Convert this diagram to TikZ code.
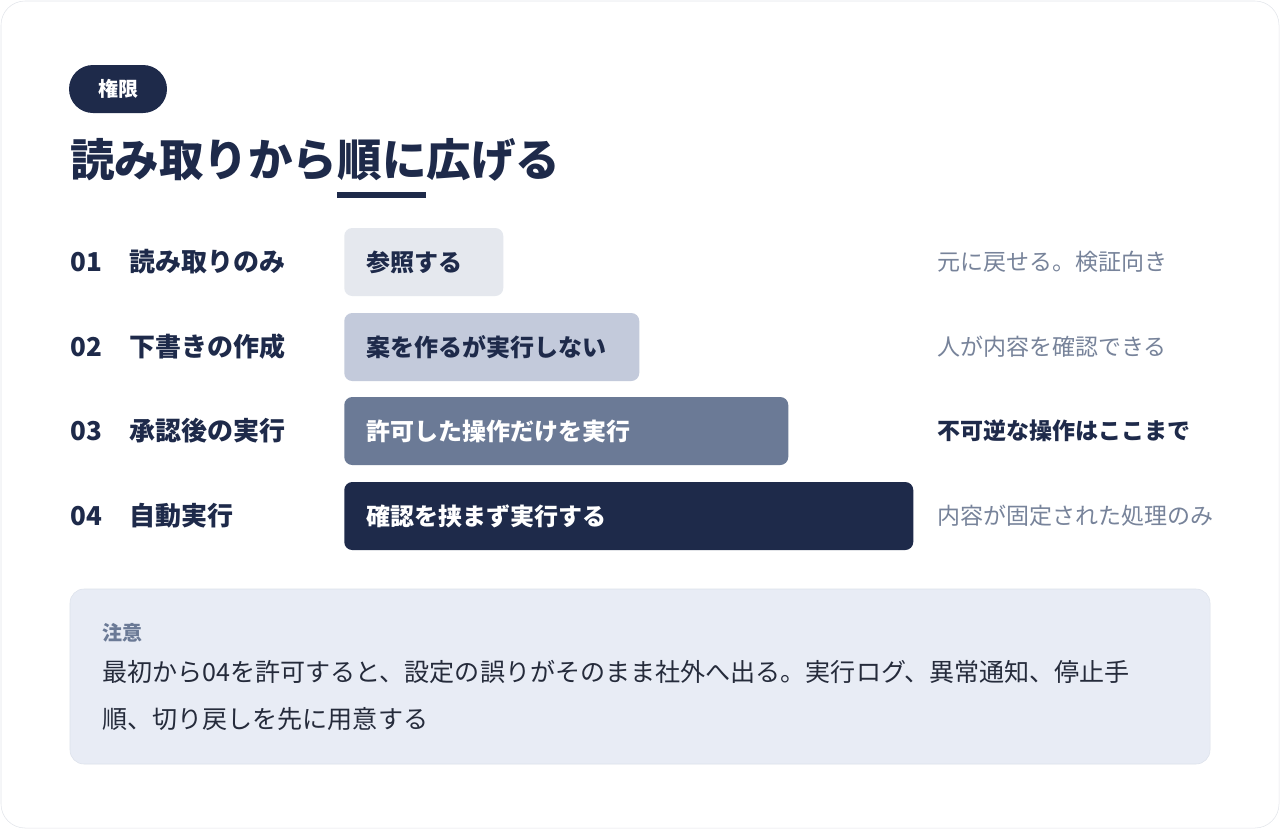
\documentclass[tikz,border=0pt]{standalone}
\usepackage{fontspec}
\setmainfont{Noto Sans CJK JP}
\newdimen\px \px=0.75pt
\definecolor{navy}{HTML}{1E2A4A}
\definecolor{barA}{HTML}{E5E8EE}
\definecolor{barB}{HTML}{C3CADB}
\definecolor{barC}{HTML}{6B7A96}
\definecolor{softgrey}{HTML}{77839A}
\definecolor{notefill}{HTML}{E8ECF5}
\definecolor{noteborder}{HTML}{DCE1EB}
\definecolor{notetext}{HTML}{252B3B}
\definecolor{framegrey}{HTML}{E2E5EA}
\newcommand\numfont{\fontsize{19.5pt}{24pt}\selectfont\bfseries}
\newcommand\barfont{\fontsize{18pt}{22pt}\selectfont\bfseries}
\newcommand\sidefont{\fontsize{17.25pt}{21pt}\selectfont}
\newcommand\notefont{\fontsize{18.8pt}{23pt}\selectfont}
\begin{document}
\begin{tikzpicture}[x=0.75pt,y=-0.75pt,
    rowlabel/.style={anchor=west,inner sep=0pt,text=navy,font=\numfont},
    sidenote/.style={anchor=west,inner sep=0pt,text=softgrey,font=\sidefont},
    notebody/.style={anchor=west,inner sep=0pt,text=notetext,font=\notefont},
    permbar/.style={anchor=west,rounded corners=8\px,minimum height=68\px,
      inner xsep=22\px,inner ysep=0pt,align=left,font=\barfont}]
	\useasboundingbox (0,0) rectangle (1280,829);
	\draw [framegrey,fill=white,rounded corners=24\px] (1,1) rectangle (1279,828);
	% tag and title
	\node [fill=navy,rounded corners=24\px,minimum width=98\px,minimum height=48\px,
	  text=white,font=\fontsize{15pt}{18pt}\selectfont\bfseries] (tag) at (118,89) {権限};
	\node [anchor=west,inner sep=0pt,text=navy,font=\fontsize{33.4pt}{40pt}\selectfont\bfseries]
	  (title) at (70,160) {読み取りから順に広げる};
	\fill [navy] (337,192) rectangle (426,198);
	% rows
	\node [rowlabel] (n1) at (70,262) {01};
	\node [rowlabel] (n2) at (70,347) {02};
	\node [rowlabel] (n3) at (70,431) {03};
	\node [rowlabel] (n4) at (70,516) {04};
	\node [rowlabel] (l1) at (129,262) {読み取りのみ};
	\node [rowlabel] (l2) at (129,347) {下書きの作成};
	\node [rowlabel] (l3) at (129,431) {承認後の実行};
	\node [rowlabel] (l4) at (129,516) {自動実行};
	\node [permbar,fill=barA,text=navy,text width=115\px] (b1) at (344,262) {参照する};
	\node [permbar,fill=barB,text=navy,text width=251\px] (b2) at (344,347) {案を作るが実行しない};
	\node [permbar,fill=barC,text=white,text width=400\px] (b3) at (344,431) {許可した操作だけを実行};
	\node [permbar,fill=navy,text=white,text width=525\px] (b4) at (344,516) {確認を挟まず実行する};
	\node [sidenote] (s1) at (937,262) {元に戻せる。検証向き};
	\node [sidenote] (s2) at (937,347) {人が内容を確認できる};
	\node [sidenote,text=navy,font=\sidefont\bfseries] (s3) at (937,431) {不可逆な操作はここまで};
	\node [sidenote] (s4) at (937,516) {内容が固定された処理のみ};
	% note
	\draw [noteborder,fill=notefill,rounded corners=14\px] (70,589) rectangle (1210,764);
	\node [anchor=west,inner sep=0pt,text=barC,font=\fontsize{15pt}{18pt}\selectfont\bfseries]
	  (warn) at (102,633) {注意};
	\node [notebody] (note1) at (102,672) {最初から04を許可すると、設定の誤りがそのまま社外へ出る。実行ログ、異常通知、停止手};
	\node [notebody] (note2) at (102,719) {順、切り戻しを先に用意する};
\end{tikzpicture}
\end{document}
